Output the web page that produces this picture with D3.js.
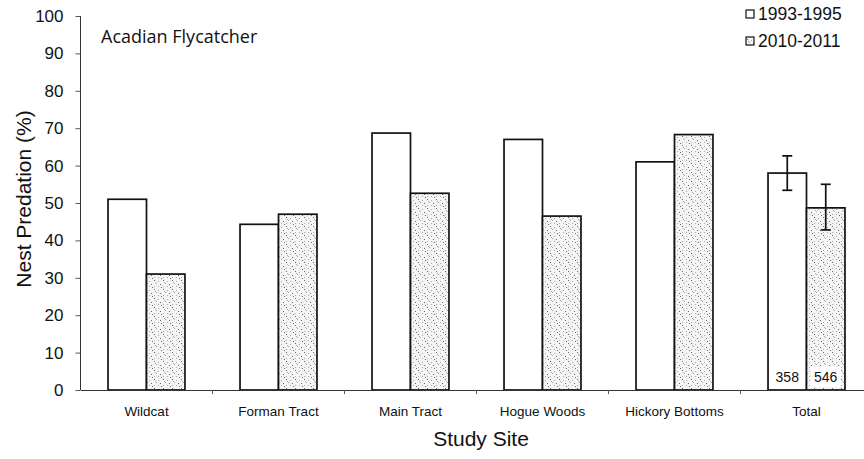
<!DOCTYPE html>
<html>
<head>
<meta charset="utf-8">
<script src="https://cdn.jsdelivr.net/npm/d3@7"></script>
<style>
  body { margin: 0; background: #fff; }
  svg { display: block; }
</style>
</head>
<body>
<svg width="864" height="459"></svg>
<script>
const sites = ["Wildcat", "Forman Tract", "Main Tract", "Hogue Woods", "Hickory Bottoms", "Total"];
const periods = ["1993-1995", "2010-2011"];
const early = [51, 44.3, 68.7, 67, 61, 58];
const late = [31, 47, 52.6, 46.5, 68.3, 48.7];
// error bars only on the totals
const errHi = [62.6, 55];
const errLo = [53.4, 42.8];
const nests = ["358", "546"];
const yTicks = [0, 10, 20, 30, 40, 50, 60, 70, 80, 90, 100];

const svg = d3.select("svg");
const plotLeft = 80.5, plotBottom = 390, plotTop = 16;
const sans = "'Liberation Sans', Arial, sans-serif";

const x = d3.scaleBand()
  .domain(sites)
  .range([plotLeft, plotLeft + 6 * 132])
  .paddingInner(0.417)
  .paddingOuter(0.2085);

const xs = d3.scaleBand()
  .domain(periods)
  .range([0, x.bandwidth()]);

const y = d3.scaleLinear()
  .domain([0, 100])
  .range([plotBottom, plotTop]);

// stipple fill for the later period
const defs = svg.append("defs");
const pat = defs.append("pattern")
  .attr("id", "stipple")
  .attr("patternUnits", "userSpaceOnUse")
  .attr("width", 9)
  .attr("height", 9);
pat.append("rect").attr("width", 9).attr("height", 9).attr("fill", "#f5f5f5");
const dots = [[1, 1], [5, 2], [3, 4], [7, 5], [1, 7], [5, 7], [8, 8], [2, 3]];
pat.selectAll("rect.d")
  .data(dots)
  .enter().append("rect")
  .attr("class", "d")
  .attr("x", d => d[0])
  .attr("y", d => d[1])
  .attr("width", 1)
  .attr("height", 1)
  .attr("fill", (d, i) => i % 3 === 0 ? "#666" : "#aaa");

const rows = sites.map((s, i) => ({ site: s, vals: [early[i], late[i]] }));

const groups = svg.append("g")
  .selectAll("g")
  .data(rows)
  .enter().append("g")
  .attr("transform", d => `translate(${x(d.site)},0)`);

groups.selectAll("rect")
  .data(d => d.vals.map((v, j) => ({ period: periods[j], v })))
  .enter().append("rect")
  .attr("x", d => xs(d.period))
  .attr("y", d => y(d.v))
  .attr("width", xs.bandwidth())
  .attr("height", d => y(0) - y(d.v))
  .attr("fill", d => d.period === periods[0] ? "#fff" : "url(#stipple)")
  .attr("stroke", "#111")
  .attr("stroke-width", 1.7);

// error bars + sample sizes on Total
const tot = x("Total");
periods.forEach((p, j) => {
  const cx = tot + xs(p) + xs.bandwidth() / 2;
  const g = svg.append("g").attr("stroke", "#111").attr("stroke-width", 1.7);
  g.append("line").attr("x1", cx).attr("x2", cx).attr("y1", y(errHi[j])).attr("y2", y(errLo[j]));
  g.append("line").attr("x1", cx - 5).attr("x2", cx + 5).attr("y1", y(errHi[j])).attr("y2", y(errHi[j]));
  g.append("line").attr("x1", cx - 5).attr("x2", cx + 5).attr("y1", y(errLo[j])).attr("y2", y(errLo[j]));

  svg.append("rect")
    .attr("x", cx - 15)
    .attr("y", y(0) - 23)
    .attr("width", 30)
    .attr("height", 20)
    .attr("fill", "#fff");
  svg.append("text")
    .attr("x", cx)
    .attr("y", y(0) - 8)
    .attr("text-anchor", "middle")
    .style("font-family", sans)
    .style("font-size", "14px")
    .attr("fill", "#111")
    .text(nests[j]);
});

// y axis
const yAxis = svg.append("g")
  .attr("transform", `translate(${plotLeft},0)`)
  .call(d3.axisLeft(y).tickValues(yTicks).tickSize(5).tickPadding(12));
yAxis.select(".domain").attr("stroke", "#333").attr("d", `M0,${y(100)}V${y(0)}`);
yAxis.selectAll(".tick line").attr("stroke", "#555");
yAxis.selectAll("text")
  .style("font-family", sans)
  .style("font-size", "17px")
  .attr("fill", "#111");

// x axis, ticks between categories
const xAxis = svg.append("g")
  .attr("transform", `translate(0,${plotBottom})`)
  .call(d3.axisBottom(x).tickSize(0).tickPadding(16));
xAxis.select(".domain").attr("stroke", "#333");
xAxis.selectAll("text")
  .style("font-family", sans)
  .style("font-size", "13.5px")
  .attr("fill", "#111");
xAxis.selectAll("line.sep")
  .data(sites.slice(1))
  .enter().append("line")
  .attr("class", "sep")
  .attr("x1", d => x(d) - x.step() * x.paddingInner() / 2)
  .attr("x2", d => x(d) - x.step() * x.paddingInner() / 2)
  .attr("y1", 0)
  .attr("y2", 4)
  .attr("stroke", "#555");

// titles
svg.append("text")
  .attr("transform", "rotate(-90)")
  .attr("x", -199)
  .attr("y", 31)
  .attr("text-anchor", "middle")
  .style("font-family", sans)
  .style("font-size", "21px")
  .attr("fill", "#111")
  .text("Nest Predation (%)");

svg.append("text")
  .attr("x", 481)
  .attr("y", 446)
  .attr("text-anchor", "middle")
  .style("font-family", sans)
  .style("font-size", "21px")
  .attr("fill", "#111")
  .text("Study Site");

svg.append("text")
  .attr("x", 101)
  .attr("y", 43)
  .style("font-family", "'Open Sans', sans-serif")
  .style("font-size", "18px")
  .attr("fill", "#111")
  .text("Acadian Flycatcher");

// legend
const legend = svg.append("g")
  .selectAll("g")
  .data(periods)
  .enter().append("g")
  .attr("transform", (d, i) => `translate(746,${20 + i * 27})`);
legend.append("rect")
  .attr("x", 0)
  .attr("y", -10)
  .attr("width", 8)
  .attr("height", 8)
  .attr("fill", (d, i) => i === 0 ? "#fff" : "url(#stipple)")
  .attr("stroke", "#111")
  .attr("stroke-width", 1.2);
legend.append("text")
  .attr("x", 12)
  .attr("y", 0)
  .style("font-family", sans)
  .style("font-size", "17.5px")
  .attr("fill", "#111")
  .text(d => d);
</script>
</body>
</html>
